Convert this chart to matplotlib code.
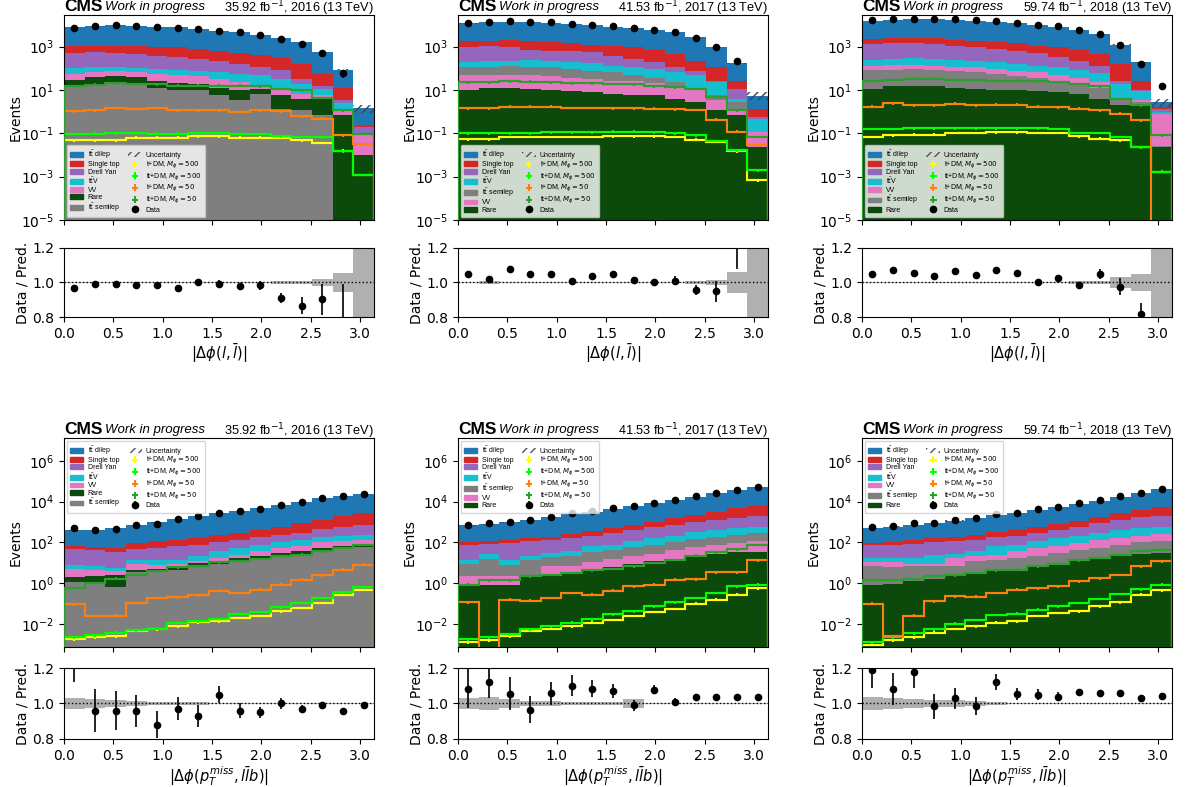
import numpy as np
import matplotlib.pyplot as plt
from matplotlib.patches import Patch
from matplotlib.ticker import FixedLocator, NullLocator

plt.rcParams['font.size'] = 10

# --- binning: 15 bins in |dphi| from 0 to pi ---
edges = np.linspace(0, np.pi, 16)
centers = 0.5 * (edges[1:] + edges[:-1])
half = 0.5 * np.diff(edges)

# --- |dphi(l, lbar)|, 2016 ---
ll16_dilep = [6760, 7790, 8490, 8260, 7300, 6870, 5720, 4745, 4090, 3135, 2210, 1420, 495, 75, 1.3]
ll16_stop = [550, 560, 600, 580, 614, 605, 508, 427, 350, 302, 211, 127, 40, 8.5, 0.01]
ll16_dy = [392, 437, 397, 362, 292, 240, 198, 162, 105, 66, 46, 14, 3.2, 1.05, 0.095]
ll16_ttv = [43, 42, 34, 27, 39, 37, 32, 33, 32, 31, 22, 12, 5.7, 1.1, 0.018]
ll16_vv = [26, 32, 37, 32, 28, 27, 24, 20, 13, 4.7, 5.7, 2.8, 0.9, 0.69, 0.077]
ll16_rare = [14.5, 23, 23, 20, 14.4, 10.8, 7.8, 7.0, 6.9, 4.6, 4.2, 2.8, 4.0, 0.67, 0.0098]
ll16_semi = [14.5, 16, 19, 19, 12.6, 10.2, 10.2, 5.6, 3.3, 6.7, 1.36, 1.14, 0.67, 0, 0]
ll16_tdm500 = [0.048, 0.048, 0.048, 0.062, 0.062, 0.062, 0.075, 0.075, 0.062, 0.062, 0.062, 0.048, 0.036, 0.016, 0.0012]
ll16_ttdm500 = [0.094, 0.096, 0.098, 0.098, 0.096, 0.097, 0.099, 0.098, 0.096, 0.094, 0.073, 0.068, 0.066, 0.015, 0.0012]
ll16_tdm50 = [1.07, 1.14, 1.5, 1.36, 1.5, 1.14, 1.14, 1.14, 1.0, 1.14, 1.07, 0.6, 0.47, 0.081, 0.031]
ll16_ttdm50 = [14.5, 17.5, 20.5, 19, 18, 16, 16, 16, 16, 14.5, 11.3, 9.5, 4.3, 1.14, 0.096]
ll16_ratio = [0.967, 0.992, 0.992, 0.983, 0.983, 0.967, 1.0, 0.992, 0.977, 0.983, 0.909, 0.865, 0.903, 0.70, 0]
ll16_ratio_err = [0.015, 0.015, 0.015, 0.015, 0.015, 0.015, 0.02, 0.02, 0.02, 0.025, 0.03, 0.05, 0.09, 0.29, 0]
ll16_unc = [0.003, 0.003, 0.003, 0.003, 0.003, 0.003, 0.003, 0.004, 0.004, 0.005, 0.006, 0.01, 0.02, 0.057, 0.4]

# --- |dphi(l, lbar)|, 2017 ---
ll17_dilep = [9940, 11300, 12070, 11840, 11020, 9980, 8760, 7190, 5970, 5100, 4140, 2470, 880, 143, 4.2]
ll17_stop = [760, 790, 1030, 1060, 925, 810, 690, 724, 658, 509, 347, 149, 93, 15.7, 0.8]
ll17_dy = [795, 882, 772, 455, 442, 419, 380, 252, 159, 97, 47, 32, 4, 7.4, 0.09]
ll17_ttv = [92, 108, 94, 125, 100, 97, 91, 68, 66, 58, 43, 34, 17, 1.1, 0.35]
ll17_semi = [66, 73, 83, 73, 71, 58, 47, 39, 22, 15, 8.5, 3.1, 2.3, 1.7, 0]
ll17_vv = [37, 34, 38, 36, 32, 27, 24, 20, 19, 15, 10.6, 6.7, 2.2, 0.47, 0.092]
ll17_rare = [10.2, 12.6, 12.6, 11.3, 10.2, 8.9, 8.0, 6.7, 6.0, 5.6, 3.9, 2.8, 1.14, 0.67, 0.023]
ll17_tdm500 = [0.053, 0.053, 0.068, 0.068, 0.068, 0.068, 0.068, 0.073, 0.073, 0.073, 0.068, 0.051, 0.040, 0.015, 0.0007]
ll17_ttdm500 = [0.10, 0.10, 0.10, 0.10, 0.115, 0.115, 0.115, 0.12, 0.12, 0.115, 0.10, 0.081, 0.045, 0.017, 0.002]
ll17_tdm50 = [1.45, 1.45, 1.7, 1.7, 1.7, 1.5, 1.5, 1.45, 1.45, 1.36, 1.3, 1.2, 0.43, 0.12, 0.028]
ll17_ttdm50 = [23, 23, 25, 24, 23, 21, 21, 19, 18, 14.5, 13.5, 11.3, 4.7, 1.14, 0.068]
ll17_ratio = [1.05, 1.021, 1.079, 1.05, 1.05, 1.01, 1.038, 1.05, 1.012, 1.002, 1.01, 0.958, 0.948, 1.3, 0]
ll17_ratio_err = [0.012, 0.012, 0.012, 0.012, 0.012, 0.012, 0.015, 0.015, 0.02, 0.02, 0.025, 0.03, 0.06, 0.22, 0]
ll17_unc = [0.003, 0.008, 0.003, 0.003, 0.003, 0.003, 0.003, 0.003, 0.004, 0.004, 0.005, 0.007, 0.015, 0.06, 0.4]

# --- |dphi(l, lbar)|, 2018 ---
ll18_dilep = [13450, 15000, 16100, 16200, 15400, 13800, 12520, 10880, 9190, 7370, 5100, 3340, 1080, 164, 1.2]
ll18_stop = [920, 1030, 1030, 1070, 990, 970, 800, 765, 620, 585, 472, 326, 133, 16.8, 0.24]
ll18_dy = [1085, 1200, 1170, 1060, 865, 700, 590, 495, 356, 232, 149, 75, 8, 1.3, 0.4]
ll18_ttv = [111, 128, 151, 138, 125, 115, 97, 81, 68, 62, 43, 36, 15, 5.4, 0.16]
ll18_vv = [55, 59, 55, 49, 46, 47, 39, 32, 30, 24, 17, 10.4, 0.6, 0.7, 0.77]
ll18_semi = [68, 70, 78, 70, 61, 55, 45, 37, 27, 19, 13, 8.7, 1.35, 0.85, 0.003]
ll18_rare = [11.3, 14.5, 16, 14.5, 12.6, 11.3, 10.2, 9.5, 8.9, 8.0, 6.2, 3.9, 1.95, 1.95, 0.023]
ll18_tdm500 = [0.068, 0.081, 0.087, 0.087, 0.105, 0.105, 0.11, 0.11, 0.105, 0.105, 0.073, 0.057, 0.048, 0.023, 0.0017]
ll18_ttdm500 = [0.16, 0.16, 0.17, 0.17, 0.17, 0.17, 0.17, 0.17, 0.17, 0.16, 0.105, 0.105, 0.068, 0.023, 0.0017]
ll18_tdm50 = [1.7, 2.45, 1.95, 1.95, 2.3, 1.95, 2.1, 2.1, 1.7, 1.6, 1.36, 1.14, 0.8, 0.4, 0]
ll18_ttdm50 = [27, 29, 33, 33, 30, 29, 27, 27, 25, 23, 19, 14.5, 3.9, 1.95, 0.081]
ll18_ratio = [1.05, 1.075, 1.055, 1.04, 1.065, 1.045, 1.075, 1.055, 1.0, 1.025, 0.985, 1.05, 0.975, 0.82, 5.4]
ll18_ratio_err = [0.012, 0.012, 0.012, 0.012, 0.012, 0.012, 0.015, 0.015, 0.02, 0.02, 0.02, 0.03, 0.05, 0.06, 2.0]
ll18_unc = [0.003, 0.003, 0.003, 0.003, 0.003, 0.003, 0.003, 0.003, 0.004, 0.004, 0.01, 0.01, 0.03, 0.05, 0.4]

# --- |dphi(ptmiss, llb)|, 2016 ---
b16_dilep = [326, 356, 447, 637, 838, 1254, 1838, 2464, 3310, 4285, 6340, 9120, 13210, 17000, 20600]
b16_stop = [15, 18, 17, 44, 59, 57, 85, 136, 155, 237, 324, 590, 820, 1440, 2170]
b16_dy = [41, 34, 30, 35, 40, 55, 55, 64, 82, 101, 136, 164, 275, 348, 494]
b16_ttv = [3.1, 2.9, 1.7, 5.4, 5.1, 5.4, 10.7, 18.5, 28, 41, 47, 57, 95, 100, 101]
b16_vv = [3.05, 2.1, 1.45, 4.1, 3.1, 2.6, 2.0, 4.7, 7.5, 13.5, 23, 29, 47, 48, 58]
b16_rare = [0.83, 1.24, 1.82, 1.2, 1.3, 1.6, 3.1, 3.7, 5.0, 7.0, 9, 13, 17, 17, 18]
b16_semi = [1.12, 0.96, 0.63, 3.5, 3.7, 4.7, 6.7, 9.1, 12.5, 15.5, 21, 27, 36, 47, 59]
b16_tdm500 = [0.0018, 0.0023, 0.0026, 0.0046, 0.0055, 0.008, 0.0126, 0.014, 0.02, 0.025, 0.043, 0.063, 0.11, 0.28, 0.49]
b16_ttdm500 = [0.0023, 0.0028, 0.0038, 0.005, 0.0059, 0.0117, 0.014, 0.018, 0.033, 0.039, 0.068, 0.11, 0.19, 0.37, 0.65]
b16_tdm50 = [0.092, 0.025, 0.026, 0.11, 0.19, 0.21, 0.26, 0.44, 0.34, 0.49, 0.86, 1.5, 2.45, 4.7, 8.1]
b16_ttdm50 = [0.6, 1.05, 1.7, 2.6, 3.9, 6.0, 6.7, 10.5, 11.8, 15.5, 21, 25, 36, 53, 77]
b16_ratio = [1.3, 0.96, 0.96, 0.96, 0.88, 0.97, 0.93, 1.05, 0.96, 0.95, 1.0, 0.97, 0.99, 0.955, 0.99]
b16_ratio_err = [0.18, 0.12, 0.11, 0.09, 0.075, 0.065, 0.06, 0.05, 0.04, 0.03, 0.03, 0.02, 0.015, 0.01, 0.01]
b16_unc = [0.03, 0.028, 0.02, 0.015, 0.01, 0.008, 0.006, 0.005, 0.004, 0.003, 0.003, 0.003, 0.003, 0.003, 0.003]

# --- |dphi(ptmiss, llb)|, 2017 ---
b17_dilep = [580, 668, 824, 1128, 1552, 2185, 2905, 3900, 5470, 7350, 10450, 15250, 22250, 32300, 43800]
b17_stop = [23, 29, 33, 42, 43, 103, 133, 210, 315, 390, 820, 1250, 1960, 3150, 4200]
b17_dy = [64, 56, 79, 99, 105, 126, 148, 213, 303, 398, 518, 690, 875, 1050, 1400]
b17_ttv = [4.1, 11, 6.1, 6.8, 11, 13.5, 31, 36, 53, 85, 112, 165, 220, 264, 310]
b17_semi = [6.9, 13.2, 5.8, 11.9, 12.3, 15.3, 22.5, 25.5, 38, 49, 59, 86, 118, 143, 178]
b17_vv = [1.34, 1.57, 1.57, 0.35, 4.2, 4.0, 6.2, 9.2, 11.9, 16, 25.5, 36.5, 49, 60, 78]
b17_rare = [0.86, 0.78, 0.78, 2.0, 2.5, 3.2, 4.3, 6.3, 9.1, 11.8, 15.5, 22.5, 28, 33, 34]
b17_tdm500 = [0.0013, 0.0016, 0.0026, 0.0046, 0.0059, 0.008, 0.0117, 0.016, 0.025, 0.039, 0.056, 0.1, 0.16, 0.28, 0.57]
b17_ttdm500 = [0.0018, 0.0023, 0.0032, 0.0055, 0.008, 0.0117, 0.017, 0.03, 0.043, 0.074, 0.12, 0.19, 0.34, 0.71, 0.86]
b17_tdm50 = [0.12, 0, 0.16, 0.14, 0.19, 0.34, 0.28, 0.44, 0.71, 0.86, 1.5, 1.6, 3.5, 3.5, 13.2]
b17_ttdm50 = [0.86, 1.4, 1.4, 2.2, 2.6, 3.2, 4.3, 5.0, 6.7, 9.8, 14.2, 22.5, 33, 47, 77]
b17_ratio = [1.084, 1.119, 1.056, 0.966, 1.057, 1.10, 1.084, 1.07, 0.99, 1.077, 1.01, 1.038, 1.038, 1.036, 1.034]
b17_ratio_err = [0.11, 0.09, 0.095, 0.075, 0.065, 0.06, 0.05, 0.04, 0.03, 0.025, 0.02, 0.01, 0.008, 0.007, 0.006]
b17_unc = [0.032, 0.038, 0.024, 0.014, 0.012, 0.01, 0.008, 0.006, 0.027, 0.005, 0.004, 0.003, 0.003, 0.003, 0.003]

# --- |dphi(ptmiss, llb)|, 2018 ---
b18_dilep = [407, 500, 604, 718, 985, 1314, 1790, 2285, 3300, 4380, 6520, 9470, 14800, 21600, 34300]
b18_stop = [16, 23, 40, 62, 83, 101, 132, 203, 310, 405, 580, 850, 1410, 2170, 3830]
b18_dy = [60, 60, 69, 75, 84, 99, 114, 135, 178, 253, 388, 590, 905, 1230, 1310]
b18_ttv = [7, 7, 8.4, 15.9, 10.5, 15, 39, 41, 59, 93, 119, 164, 223, 288, 295]
b18_vv = [3.8, 4.2, 2.4, 1.9, 10.3, 9.2, 11.8, 18.5, 30, 39, 52, 73, 85, 112, 153]
b18_semi = [5.8, 5.3, 5.4, 5.6, 5.0, 8.8, 9.3, 12.5, 15.3, 20, 29, 35, 54, 72, 82]
b18_rare = [0.86, 0.96, 1.26, 1.6, 2.2, 3.0, 3.9, 5.0, 7.2, 9.8, 11.8, 17.5, 22.5, 28, 30]
b18_tdm500 = [0.001, 0.0016, 0.0023, 0.0038, 0.0059, 0.008, 0.0117, 0.014, 0.025, 0.036, 0.043, 0.074, 0.12, 0.28, 0.46]
b18_ttdm500 = [0.0013, 0.0023, 0.0035, 0.0055, 0.0105, 0.016, 0.028, 0.033, 0.052, 0.074, 0.11, 0.17, 0.30, 0.52, 0.86]
b18_tdm50 = [0.10, 0.0026, 0.026, 0.13, 0.23, 0.22, 0.34, 0.49, 0.57, 0.73, 1.26, 1.8, 2.6, 6.7, 11.8]
b18_ttdm50 = [1.4, 1.4, 1.6, 2.2, 2.45, 3.2, 4.3, 4.7, 6.7, 9.1, 13.2, 17.5, 25, 36, 44]
b18_ratio = [1.19, 1.08, 1.18, 0.985, 1.03, 0.985, 1.12, 1.055, 1.05, 1.038, 1.067, 1.06, 1.06, 1.03, 1.04]
b18_ratio_err = [0.1, 0.09, 0.09, 0.07, 0.06, 0.05, 0.045, 0.035, 0.03, 0.025, 0.015, 0.01, 0.008, 0.007, 0.006]
b18_unc = [0.035, 0.033, 0.025, 0.02, 0.018, 0.015, 0.008, 0.005, 0.004, 0.004, 0.003, 0.003, 0.003, 0.003, 0.003]

# --- styles ---
colors = {'dilep': '#1f77b4', 'stop': '#d62728', 'dy': '#9467bd', 'ttv': '#17becf',
          'vv': '#e377c2', 'rare': '#0b4a0b', 'semi': '#7f7f7f'}
labels = {'dilep': r't$\bar{\mathrm{t}}$ dilep', 'stop': 'Single top', 'dy': 'Drell Yan',
          'ttv': r't$\bar{\mathrm{t}}$V', 'vv': 'VV', 'rare': 'Rare',
          'semi': r't$\bar{\mathrm{t}}$ semilep'}
sig_keys = ['tdm500', 'ttdm500', 'tdm50', 'ttdm50']
sig_colors = {'tdm500': '#ffff00', 'ttdm500': '#00ff00', 'tdm50': '#ff7f0e', 'ttdm50': '#2ca02c'}
sig_labels = {'tdm500': r't+DM, $M_\phi = 500$', 'ttdm500': r'tt+DM, $M_\phi = 500$',
              'tdm50': r't+DM, $M_\phi = 50$', 'ttdm50': r'tt+DM, $M_\phi = 50$'}
hdr_font = ['Liberation Sans', 'DejaVu Sans']


def draw_panel(ax, rax, order, bkg, sigs, ratio, ratio_err, unc, xlabel, lumi, loc, ylim, yticks):
    floor = 1e-12
    base = np.full(15, floor)
    for key in order[::-1]:
        top = base + np.array(bkg[key], dtype=float)
        ax.stairs(top, edges, baseline=base, fill=True, color=colors[key], lw=0, zorder=1)
        base = top
    total = base - floor
    unc = np.array(unc)
    ax.stairs(total * (1 + unc), edges, baseline=np.clip(total * (1 - unc), 1e-9, None), fill=True,
              facecolor='none', edgecolor='#444444', hatch='////', lw=0, zorder=2)

    sig_handles = []
    for key in sig_keys:
        y = np.array(sigs[key], dtype=float)
        ax.stairs(y, edges, color=sig_colors[key], lw=1.5, zorder=3)
        eb = ax.errorbar(centers, np.where(y > 0, y, np.nan), xerr=half, yerr=0.15 * y, fmt='none',
                         ecolor=sig_colors[key], elinewidth=1.5, zorder=3, label=sig_labels[key])
        sig_handles.append(eb)

    r = np.array(ratio, dtype=float)
    re = np.array(ratio_err, dtype=float)
    data = r * total
    dh = ax.errorbar(centers, np.where(data > 0, data, np.nan), yerr=re * total, fmt='o', color='k',
                     ms=4.5, elinewidth=1.2, zorder=4, label='Data')

    ax.set_yscale('log')
    ax.set_xlim(0, np.pi)
    ax.set_ylim(*ylim)
    ax.yaxis.set_major_locator(FixedLocator(yticks))
    ax.yaxis.set_minor_locator(NullLocator())
    ax.set_xticks(np.arange(0, 3.1, 0.5))
    ax.tick_params(labelbottom=False)
    ax.set_ylabel('Events', labelpad=-1)

    handles = [Patch(color=colors[k], label=labels[k]) for k in order]
    handles.append(Patch(facecolor='none', edgecolor='#555555', hatch='////', lw=0, label='Uncertainty'))
    handles += sig_handles + [dh]
    ax.legend(handles=handles, ncol=2, loc=loc, prop={'family': hdr_font, 'size': 5},
              labelspacing=0.05, columnspacing=1.2, handlelength=1.9, handletextpad=0.6,
              borderaxespad=0.4, borderpad=0.5)

    # experiment label and luminosity
    cms = ax.annotate('CMS', xy=(0, 1), xycoords='axes fraction', xytext=(0, 2.6),
                      textcoords='offset points', fontsize=12.5, fontweight='bold',
                      family=hdr_font, va='baseline', ha='left')
    ax.annotate('Work in progress', xy=(1, 0), xycoords=cms, xytext=(2, 1), textcoords='offset points',
                fontsize=9.5, style='italic', family=hdr_font, va='bottom', ha='left')
    ax.annotate(lumi, xy=(1, 1), xycoords='axes fraction', xytext=(0, 1.8), textcoords='offset points',
                fontsize=9.2, family=hdr_font, va='baseline', ha='right')

    # ratio panel
    rax.stairs(1 + unc, edges, baseline=1 - unc, fill=True, color='#b0b0b0', lw=0)
    rax.axhline(1.0, color='k', ls=':', lw=1)
    rax.errorbar(centers, r, yerr=re, fmt='o', color='k', ms=4.5, elinewidth=1.2)
    rax.set_xlim(0, np.pi)
    rax.set_ylim(0.8, 1.2)
    rax.set_yticks([0.8, 1.0, 1.2])
    rax.set_xticks(np.arange(0, 3.1, 0.5))
    rax.set_ylabel('Data / Pred.', labelpad=2)
    rax.set_xlabel(xlabel, fontsize=10.5, labelpad=1)


fig = plt.figure(figsize=(11.87, 7.87), dpi=100)
lefts = [0.0539, 0.3858, 0.7262]
width = 0.2612
top_main = [0.7205, 0.2605]
top_ratio = [0.5972, 0.0877]
bot_main = [0.1779, 0.2656]
bot_ratio = [0.0610, 0.0902]

lumis = [r'35.92 fb$^{-1}$, 2016 (13 TeV)', r'41.53 fb$^{-1}$, 2017 (13 TeV)',
         r'59.74 fb$^{-1}$, 2018 (13 TeV)']
order16 = ['dilep', 'stop', 'dy', 'ttv', 'vv', 'rare', 'semi']
order17 = ['dilep', 'stop', 'dy', 'ttv', 'semi', 'vv', 'rare']
order18 = ['dilep', 'stop', 'dy', 'ttv', 'vv', 'semi', 'rare']

ll_panels = [
    (order16, dict(dilep=ll16_dilep, stop=ll16_stop, dy=ll16_dy, ttv=ll16_ttv, vv=ll16_vv, rare=ll16_rare, semi=ll16_semi),
     dict(tdm500=ll16_tdm500, ttdm500=ll16_ttdm500, tdm50=ll16_tdm50, ttdm50=ll16_ttdm50),
     ll16_ratio, ll16_ratio_err, ll16_unc),
    (order17, dict(dilep=ll17_dilep, stop=ll17_stop, dy=ll17_dy, ttv=ll17_ttv, vv=ll17_vv, rare=ll17_rare, semi=ll17_semi),
     dict(tdm500=ll17_tdm500, ttdm500=ll17_ttdm500, tdm50=ll17_tdm50, ttdm50=ll17_ttdm50),
     ll17_ratio, ll17_ratio_err, ll17_unc),
    (order18, dict(dilep=ll18_dilep, stop=ll18_stop, dy=ll18_dy, ttv=ll18_ttv, vv=ll18_vv, rare=ll18_rare, semi=ll18_semi),
     dict(tdm500=ll18_tdm500, ttdm500=ll18_ttdm500, tdm50=ll18_tdm50, ttdm50=ll18_ttdm50),
     ll18_ratio, ll18_ratio_err, ll18_unc),
]
b_panels = [
    (order16, dict(dilep=b16_dilep, stop=b16_stop, dy=b16_dy, ttv=b16_ttv, vv=b16_vv, rare=b16_rare, semi=b16_semi),
     dict(tdm500=b16_tdm500, ttdm500=b16_ttdm500, tdm50=b16_tdm50, ttdm50=b16_ttdm50),
     b16_ratio, b16_ratio_err, b16_unc),
    (order17, dict(dilep=b17_dilep, stop=b17_stop, dy=b17_dy, ttv=b17_ttv, vv=b17_vv, rare=b17_rare, semi=b17_semi),
     dict(tdm500=b17_tdm500, ttdm500=b17_ttdm500, tdm50=b17_tdm50, ttdm50=b17_ttdm50),
     b17_ratio, b17_ratio_err, b17_unc),
    (order18, dict(dilep=b18_dilep, stop=b18_stop, dy=b18_dy, ttv=b18_ttv, vv=b18_vv, rare=b18_rare, semi=b18_semi),
     dict(tdm500=b18_tdm500, ttdm500=b18_ttdm500, tdm50=b18_tdm50, ttdm50=b18_ttdm50),
     b18_ratio, b18_ratio_err, b18_unc),
]

for i in range(3):
    ax = fig.add_axes([lefts[i], top_main[0], width, top_main[1]])
    rax = fig.add_axes([lefts[i], top_ratio[0], width, top_ratio[1]])
    order, bkg, sigs, ratio, rerr, unc = ll_panels[i]
    draw_panel(ax, rax, order, bkg, sigs, ratio, rerr, unc, r'$|\Delta\phi(l,\bar{l})|$', lumis[i],
               'lower left', (1e-5, 2.9e4), [1e-5, 1e-3, 1e-1, 1e1, 1e3])

    ax = fig.add_axes([lefts[i], bot_main[0], width, bot_main[1]])
    rax = fig.add_axes([lefts[i], bot_ratio[0], width, bot_ratio[1]])
    order, bkg, sigs, ratio, rerr, unc = b_panels[i]
    draw_panel(ax, rax, order, bkg, sigs, ratio, rerr, unc, r'$|\Delta\phi(p_T^{miss}, l\bar{l}b)|$', lumis[i],
               'upper left', (7.6e-4, 1.3e7), [1e-2, 1e0, 1e2, 1e4, 1e6])

fig.savefig('out.png', dpi=100)
